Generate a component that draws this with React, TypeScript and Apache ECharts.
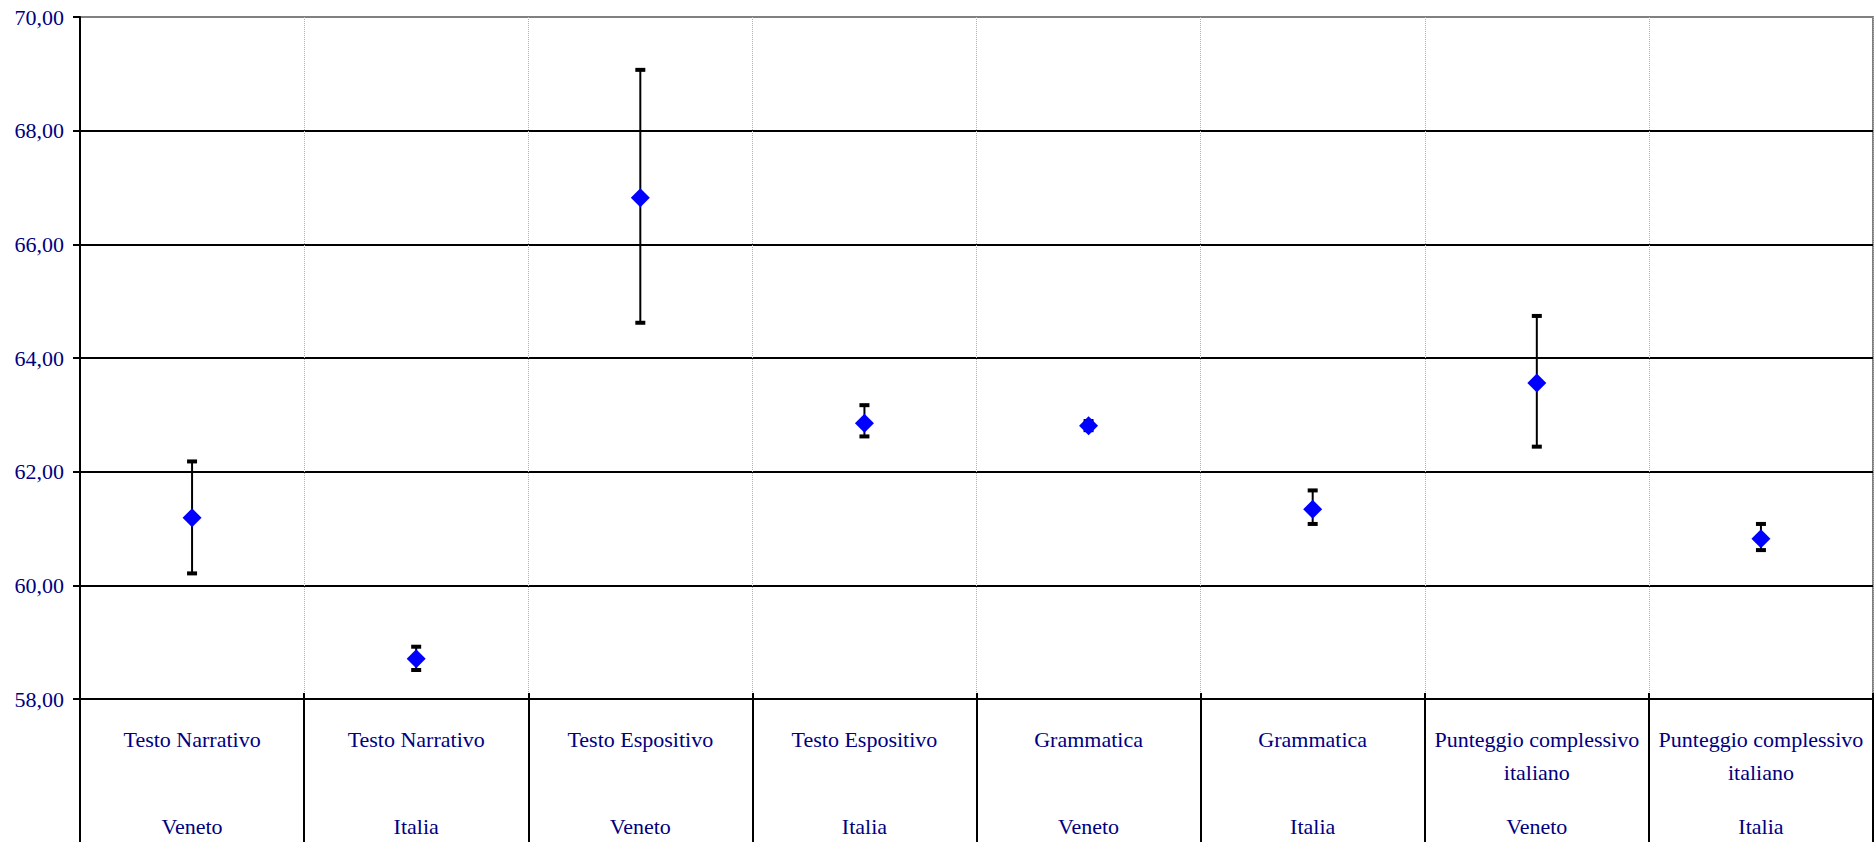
import React, { useEffect, useRef } from "react";
import * as echarts from "echarts";

const tests = [
  "Testo Narrativo",
  "Testo Narrativo",
  "Testo Espositivo",
  "Testo Espositivo",
  "Grammatica",
  "Grammatica",
  "Punteggio complessivo italiano",
  "Punteggio complessivo italiano",
];
const regions = ["Veneto", "Italia", "Veneto", "Italia", "Veneto", "Italia", "Veneto", "Italia"];
const means = [61.19, 58.71, 66.82, 62.85, 62.81, 61.34, 63.56, 60.82];
const lows = [60.21, 58.51, 64.62, 62.62, 62.73, 61.08, 62.44, 60.62];
const highs = [62.18, 58.92, 69.07, 63.17, 62.89, 61.67, 64.74, 61.08];
const yTicks = [58, 60, 62, 64, 66, 68, 70];

const categories = tests.map((t, i) => t + "|" + regions[i]);

function wrap(name: string, max: number): string[] {
  const words = name.split(" ");
  const lines: string[] = [];
  let cur = "";
  for (const w of words) {
    const cand = cur ? cur + " " + w : w;
    if (cand.length > max && cur) {
      lines.push(cur);
      cur = w;
    } else cur = cand;
  }
  if (cur) lines.push(cur);
  return lines;
}

const NAVY = "#000080";
const FONT = "'Liberation Serif', 'Times New Roman', serif";

export default function App() {
  const ref = useRef<HTMLDivElement>(null);
  useEffect(() => {
    if (!ref.current) return;
    const chart = echarts.init(ref.current, undefined, { renderer: "svg" });
    const option: any = {
      animation: false,
      backgroundColor: "#ffffff",
      grid: {
        left: 80,
        right: 2,
        top: 17,
        bottom: 143,
        show: true,
        borderColor: "#808080",
        borderWidth: 2,
      },
      xAxis: [
        {
          type: "category",
          data: categories,
          boundaryGap: true,
          axisLine: { show: true, lineStyle: { color: "#000", width: 2 } },
          axisTick: {
            show: true,
            interval: 0,
            length: 143,
            lineStyle: { color: "#000", width: 2 },
          },
          splitLine: {
            show: true,
            interval: 0,
            lineStyle: { color: "#b0b0b0", width: 1, type: "dotted" },
          },
          axisLabel: {
            interval: 0,
            margin: 24,
            color: NAVY,
            fontFamily: FONT,
            fontSize: 22,
            align: "center",
            rich: {
              a: { color: NAVY, fontFamily: FONT, fontSize: 22, lineHeight: 33 },
              g: { fontSize: 10, lineHeight: 21 },
            },
            formatter: (v: string) => {
              const [t, r] = v.split("|");
              const lines = wrap(t, 22);
              while (lines.length < 2) lines.push(" ");
              return lines.map((l) => "{a|" + l + "}").join("\n") + "\n{g| }\n{a|" + r + "}";
            },
          },
        },
        {
          type: "category",
          data: categories,
          position: "bottom",
          boundaryGap: true,
          axisLine: { show: false },
          axisTick: {
            show: true,
            inside: true,
            interval: 0,
            length: 6,
            lineStyle: { color: "#000", width: 2 },
          },
          axisLabel: { show: false },
          splitLine: { show: false },
        },
      ],
      yAxis: {
        type: "value",
        min: 58,
        max: 70,
        interval: 2,
        axisLine: { show: true, lineStyle: { color: "#000", width: 2 } },
        axisTick: { show: true, length: 7, lineStyle: { color: "#000", width: 2 } },
        splitLine: {
          show: true,
          showMinLine: false,
          showMaxLine: false,
          lineStyle: { color: "#000", width: 2 },
        },
        axisLabel: {
          margin: 16,
          color: NAVY,
          fontFamily: FONT,
          fontSize: 22,
          customValues: yTicks,
          formatter: (v: number) => v.toFixed(2).replace(".", ","),
        },
      },
      series: [
        {
          type: "custom",
          data: categories.map((c, i) => [i, lows[i], highs[i]]),
          encode: { x: 0, y: [1, 2] },
          z: 3,
          renderItem: (params: any, api: any) => {
            const x = api.value(0);
            const lo = api.coord([x, api.value(1)]);
            const hi = api.coord([x, api.value(2)]);
            const capW = 10;
            const capH = 4;
            return {
              type: "group",
              children: [
                {
                  type: "line",
                  shape: { x1: lo[0], y1: lo[1], x2: hi[0], y2: hi[1] },
                  style: { stroke: "#000", lineWidth: 2 },
                },
                {
                  type: "rect",
                  shape: { x: hi[0] - capW / 2, y: hi[1] - capH / 2, width: capW, height: capH },
                  style: { fill: "#000" },
                },
                {
                  type: "rect",
                  shape: { x: lo[0] - capW / 2, y: lo[1] - capH / 2, width: capW, height: capH },
                  style: { fill: "#000" },
                },
              ],
            };
          },
        },
        {
          type: "scatter",
          data: means.map((m, i) => [i, m]),
          symbol: "diamond",
          symbolSize: 19,
          itemStyle: { color: "#0000ff", opacity: 1 },
          z: 4,
        },
      ],
    };
    chart.setOption(option);
    return () => chart.dispose();
  }, []);
  return (
    <div
      ref={ref}
      style={{ position: "fixed", left: 0, top: 0, width: 1875, height: 842, background: "#fff" }}
    />
  );
}
